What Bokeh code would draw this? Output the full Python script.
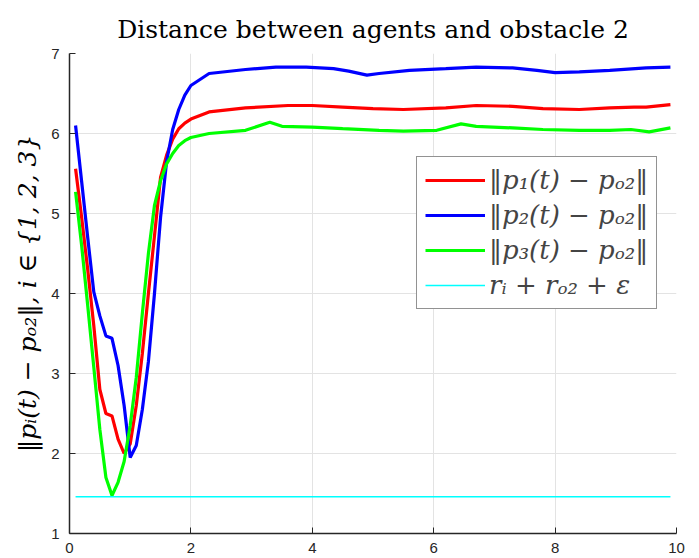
from bokeh.plotting import figure
from bokeh.models import Range1d, FixedTicker, Legend, LegendItem
from bokeh.embed import file_html
from bokeh.resources import INLINE

# Distance of each agent to obstacle 2 over time
t_p1 = [0.1, 0.2, 0.3, 0.4, 0.5, 0.6, 0.7, 0.8, 0.9, 1.0, 1.1, 1.2, 1.3, 1.4, 1.5, 1.6, 1.7, 1.8, 1.9, 2.0,
        2.3, 2.9, 3.6, 4.0, 4.5, 5.0, 5.5, 6.2, 6.7, 7.3, 7.8, 8.4, 8.9, 9.3, 9.5, 9.9]
d_p1 = [5.56, 4.95, 4.30, 3.60, 2.80, 2.50, 2.47, 2.18, 2.00, 2.12, 2.60, 3.25, 4.00, 4.72, 5.45, 5.73, 5.93, 6.06, 6.13, 6.18,
        6.27, 6.32, 6.35, 6.35, 6.33, 6.31, 6.30, 6.32, 6.35, 6.34, 6.31, 6.30, 6.32, 6.33, 6.33, 6.36]

t_p2 = [0.1, 0.2, 0.3, 0.4, 0.5, 0.6, 0.7, 0.8, 0.9, 1.0, 1.1, 1.2, 1.3, 1.4, 1.5, 1.6, 1.7, 1.8, 1.9, 2.0,
        2.3, 2.9, 3.4, 3.9, 4.35, 4.6, 4.9, 5.1, 5.6, 6.2, 6.7, 7.3, 7.7, 8.0, 8.4, 8.9, 9.5, 9.9]
d_p2 = [6.10, 5.40, 4.70, 4.02, 3.72, 3.47, 3.44, 3.10, 2.60, 1.95, 2.10, 2.55, 3.15, 4.00, 4.95, 5.65, 6.05, 6.30, 6.48, 6.60,
        6.75, 6.80, 6.83, 6.83, 6.81, 6.78, 6.73, 6.75, 6.79, 6.81, 6.83, 6.82, 6.79, 6.76, 6.77, 6.79, 6.82, 6.83]

t_p3 = [0.1, 0.2, 0.3, 0.4, 0.5, 0.6, 0.7, 0.8, 0.9, 1.0, 1.1, 1.2, 1.3, 1.4, 1.5, 1.6, 1.7, 1.8, 1.9, 2.0,
        2.3, 2.9, 3.3, 3.5, 4.0, 4.5, 5.1, 5.5, 6.05, 6.45, 6.7, 7.3, 7.8, 8.4, 8.9, 9.25, 9.55, 9.9]
d_p3 = [5.27, 4.60, 3.85, 3.08, 2.30, 1.70, 1.475, 1.64, 1.90, 2.35, 2.95, 3.75, 4.50, 5.10, 5.41, 5.62, 5.75, 5.85, 5.91, 5.95,
        6.00, 6.04, 6.14, 6.09, 6.08, 6.06, 6.04, 6.03, 6.04, 6.12, 6.09, 6.07, 6.05, 6.04, 6.04, 6.05, 6.02, 6.07]

# Safety distance r_i + r_O2 + epsilon
t_safe = [0.1, 9.9]
d_safe = [1.46, 1.46]

x_ticks = [0, 2, 4, 6, 8, 10]
y_ticks = [1, 2, 3, 4, 5, 6, 7]

legend_labels = ["‖p₁(t) − pₒ₂‖", "‖p₂(t) − pₒ₂‖", "‖p₃(t) − pₒ₂‖", "rᵢ + rₒ₂ + ε"]

axis_color = "#262626"
grid_color = "#e3e3e3"
serif = "DejaVu Serif"

p = figure(width=699, height=558, output_backend="svg", toolbar_location=None,
           x_range=Range1d(0, 10), y_range=Range1d(1, 7),
           min_border_left=69, min_border_right=23, min_border_top=53, min_border_bottom=25)

p.title.text = "Distance between agents and obstacle 2"
p.title.align = "center"
p.title.text_font = serif
p.title.text_font_style = "normal"
p.title.text_font_size = "25px"
p.title.text_color = "black"
p.title.standoff = 20

p.outline_line_color = None
p.background_fill_color = "white"
p.border_fill_color = "white"

for ax in (p.xaxis[0], p.yaxis[0]):
    ax.axis_line_color = axis_color
    ax.axis_line_width = 1.5
    ax.major_tick_line_color = axis_color
    ax.major_tick_in = 6
    ax.major_tick_out = 0
    ax.minor_tick_line_color = None
    ax.major_label_text_font = "Liberation Sans"
    ax.major_label_text_font_size = "15px"
    ax.major_label_text_color = axis_color

p.xaxis.ticker = FixedTicker(ticks=x_ticks)
p.yaxis.ticker = FixedTicker(ticks=y_ticks)
p.xaxis.major_label_standoff = 9
p.yaxis.major_label_standoff = 10

p.yaxis.axis_label = "‖pᵢ(t) − pₒ₂‖, i ∈ {1, 2, 3}"
p.yaxis.axis_label_text_font = serif
p.yaxis.axis_label_text_font_style = "italic"
p.yaxis.axis_label_text_font_size = "25px"
p.yaxis.axis_label_text_color = "black"
p.yaxis.axis_label_standoff = 6

p.xgrid.ticker = FixedTicker(ticks=x_ticks)
p.ygrid.ticker = FixedTicker(ticks=y_ticks)
p.grid.grid_line_color = grid_color
p.grid.grid_line_width = 1

r1 = p.line(t_p1, d_p1, line_color="#ff0000", line_width=3.2)
r2 = p.line(t_p2, d_p2, line_color="#0000ff", line_width=3.2)
r3 = p.line(t_p3, d_p3, line_color="#00ff00", line_width=3.2)
r4 = p.line(t_safe, d_safe, line_color="#00ffff", line_width=1.5)

legend = Legend(items=[LegendItem(label=lab, renderers=[r]) for lab, r in zip(legend_labels, [r1, r2, r3, r4])],
                location=(347, 224))
legend.label_text_font = serif
legend.label_text_font_style = "italic"
legend.label_text_font_size = "26px"
legend.label_height = 26
legend.glyph_height = 26
legend.glyph_width = 60
legend.label_standoff = 4
legend.spacing = 5
legend.padding = 8
legend.margin = 0
legend.border_line_color = axis_color
legend.border_line_width = 1.2
legend.background_fill_color = "white"
legend.background_fill_alpha = 1.0
p.add_layout(legend, "center")

open("out.html", "w").write(file_html(p, INLINE))
